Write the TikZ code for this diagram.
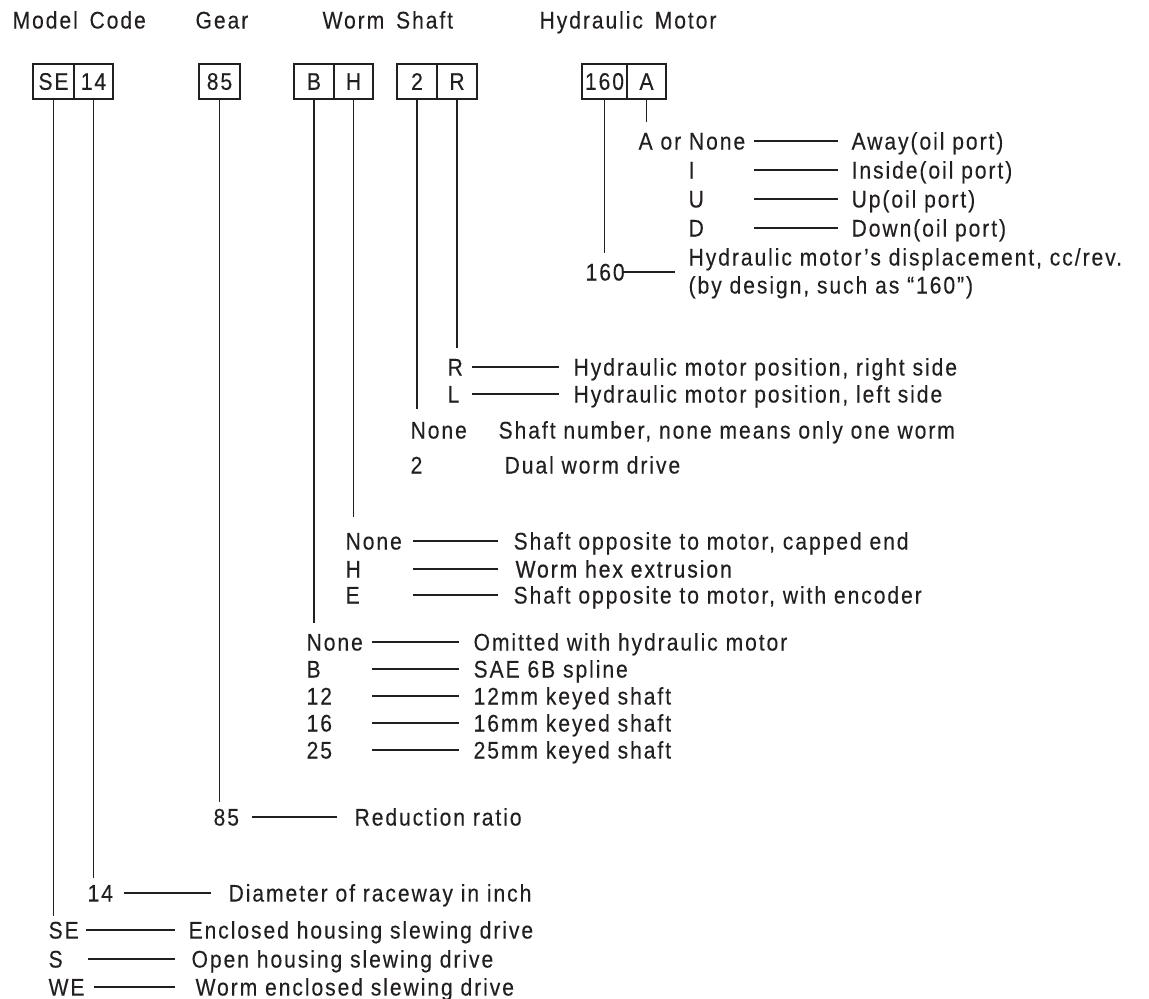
\documentclass[tikz,border=0pt]{standalone}
\usepackage{fontspec}
\setmainfont{Liberation Sans}[FakeStretch=0.88,LetterSpace=8,FakeBold=0.2]
\newfontfamily\heavyfont{Liberation Sans}[FakeStretch=0.88,LetterSpace=8,FakeBold=0.7]
\definecolor{ink}{HTML}{231F20}
\tikzset{
  codecell/.style={draw, minimum height=17.5pt, inner sep=0pt},
  optkey/.style={anchor=west, inner sep=0pt, text height=8.5pt, text depth=0pt}
}
\newcommand{\codecell}[4] {\node at (#1) (#2) [codecell, minimum width=#3] {#4};}
\newcommand{\codeend}[2] {\coordinate (#1) at (0,#2);}
\newcommand{\codedrop}[2] {\draw (#1.south) -- (#1.south |- #2);}
\newcommand{\optkey}[3] {\node at (#1) (#2) [optkey] {#3};}
\newcommand{\optdash}[3] {\draw (#1.east -| #2,0) -- (#1.east -| #3,0);}

\begin{document}
\begin{tikzpicture}[x=0.5pt, y=-0.5pt, line width=0.6pt, color=ink, font=\fontsize{12}{14}\selectfont]
\useasboundingbox (0,0) rectangle (1149,998);

\optkey {12,20} {hModel} {Model\hspace{2pt} Code};
\optkey {195,20} {hGear} {Gear};
\optkey {322,20} {hWorm} {Worm\hspace{2pt} Shaft};
\optkey {539,20} {hMotor} {Hydraulic\hspace{2pt} Motor};

\codecell {53.5,81.5} {cSE} {20.5pt} {SE};
\codecell {93.5,81.5} {cDia} {19.5pt} {14};
\codecell {219.5,81.5} {cGear} {20.5pt} {85};
\codecell {314,81.5} {cB} {20pt} {B};
\codecell {353.5,81.5} {cH} {19.5pt} {H};
\codecell {417,81.5} {cTwo} {20pt} {2};
\codecell {457,81.5} {cR} {20pt} {R};
\codecell {604.5,81.5} {cDisp} {22.5pt} {160};
\codecell {646.5,81.5} {cA} {19.5pt} {A};

\codeend {eSE} {916};
\codeend {eDia} {878};
\codeend {eGear} {802};
\codeend {eB} {623};
\codeend {eH} {517};
\codeend {eTwo} {409};
\codeend {eR} {348};
\codeend {eDisp} {253};
\codeend {eA} {122};

\codedrop {cSE} {eSE};
\codedrop {cDia} {eDia};
\codedrop {cGear} {eGear};
\codedrop {cB} {eB};
\codedrop {cH} {eH};
\codedrop {cTwo} {eTwo};
\codedrop {cR} {eR};
\codedrop {cDisp} {eDisp};
\codedrop {cA} {eA};

% oil port
\optkey {638,141} {kAway} {A or None};
\optkey {688,170} {kIn} {I};
\optkey {688,199} {kUp} {U};
\optkey {688,228} {kDown} {D};
\optkey {851,141} {dAway} {Away(oil port)};
\optkey {851,170} {dIn} {Inside(oil port)};
\optkey {851,199} {dUp} {Up(oil port)};
\optkey {851,228} {dDown} {Down(oil port)};
\optdash {kAway} {754} {838};
\optdash {kIn} {754} {838};
\optdash {kUp} {754} {838};
\optdash {kDown} {754} {838};

% displacement
\optkey {585,272} {kDisp} {160};
\optkey {688,257} {dDispA} {Hydraulic motor’s displacement, cc/rev.};
\optkey {688,285} {dDispB} {(by design, such as “160")};
\optdash {kDisp} {624} {675};

% motor side
\optkey {447,367} {kRight} {R};
\optkey {447,394} {kLeft} {L};
\optkey {573,367} {dRight} {Hydraulic motor position, right side};
\optkey {573,394} {dLeft} {Hydraulic motor position, left side};
\optdash {kRight} {472} {559};
\optdash {kLeft} {472} {559};

% shaft number
\optkey {410,430} {kOne} {None};
\optkey {410,465} {kDual} {2};
\optkey {498,430} {dOne} {Shaft number, none means only one worm};
\optkey {504,465} {dDual} {Dual worm drive};

% opposite end
\optkey {345,541} {kCap} {None};
\optkey {345,569} {kHex} {\heavyfont H};
\optkey {345,595} {kEnc} {E};
\optkey {513,541} {dCap} {Shaft opposite to motor, capped end};
\optkey {515,569} {dHex} {\heavyfont Worm hex extrusion};
\optkey {513,595} {dEnc} {Shaft opposite to motor, with encoder};
\optdash {kCap} {413} {498};
\optdash {kHex} {413} {498};
\optdash {kEnc} {413} {498};

% input shaft
\optkey {306,642} {kOmit} {None};
\optkey {306,669} {kSpline} {B};
\optkey {306,696} {kKeyA} {12};
\optkey {306,723} {kKeyB} {16};
\optkey {306,750} {kKeyC} {25};
\optkey {473,642} {dOmit} {Omitted with hydraulic motor};
\optkey {473,669} {dSpline} {SAE 6B spline};
\optkey {473,696} {dKeyA} {12mm keyed shaft};
\optkey {473,723} {dKeyB} {16mm keyed shaft};
\optkey {473,750} {dKeyC} {25mm keyed shaft};
\optdash {kOmit} {372} {459};
\optdash {kSpline} {372} {459};
\optdash {kKeyA} {372} {459};
\optdash {kKeyB} {372} {459};
\optdash {kKeyC} {372} {459};

% ratio
\optkey {213,817} {kRatio} {85};
\optkey {354,817} {dRatio} {Reduction ratio};
\optdash {kRatio} {252} {337};

% raceway
\optkey {87,893} {kDia} {14};
\optkey {228,893} {dDia} {Diameter of raceway in inch};
\optdash {kDia} {124} {211};

% housing
\optkey {48,930} {kEncl} {SE};
\optkey {48,959} {kOpen} {S};
\optkey {48,987} {kWorm} {WE};
\optkey {188,930} {dEncl} {Enclosed housing slewing drive};
\optkey {191,959} {dOpen} {Open housing slewing drive};
\optkey {195,987} {dWorm} {Worm enclosed slewing drive};
\optdash {kEncl} {86} {175};
\optdash {kOpen} {88} {175};
\optdash {kWorm} {94} {175};
\end{tikzpicture}
\end{document}
